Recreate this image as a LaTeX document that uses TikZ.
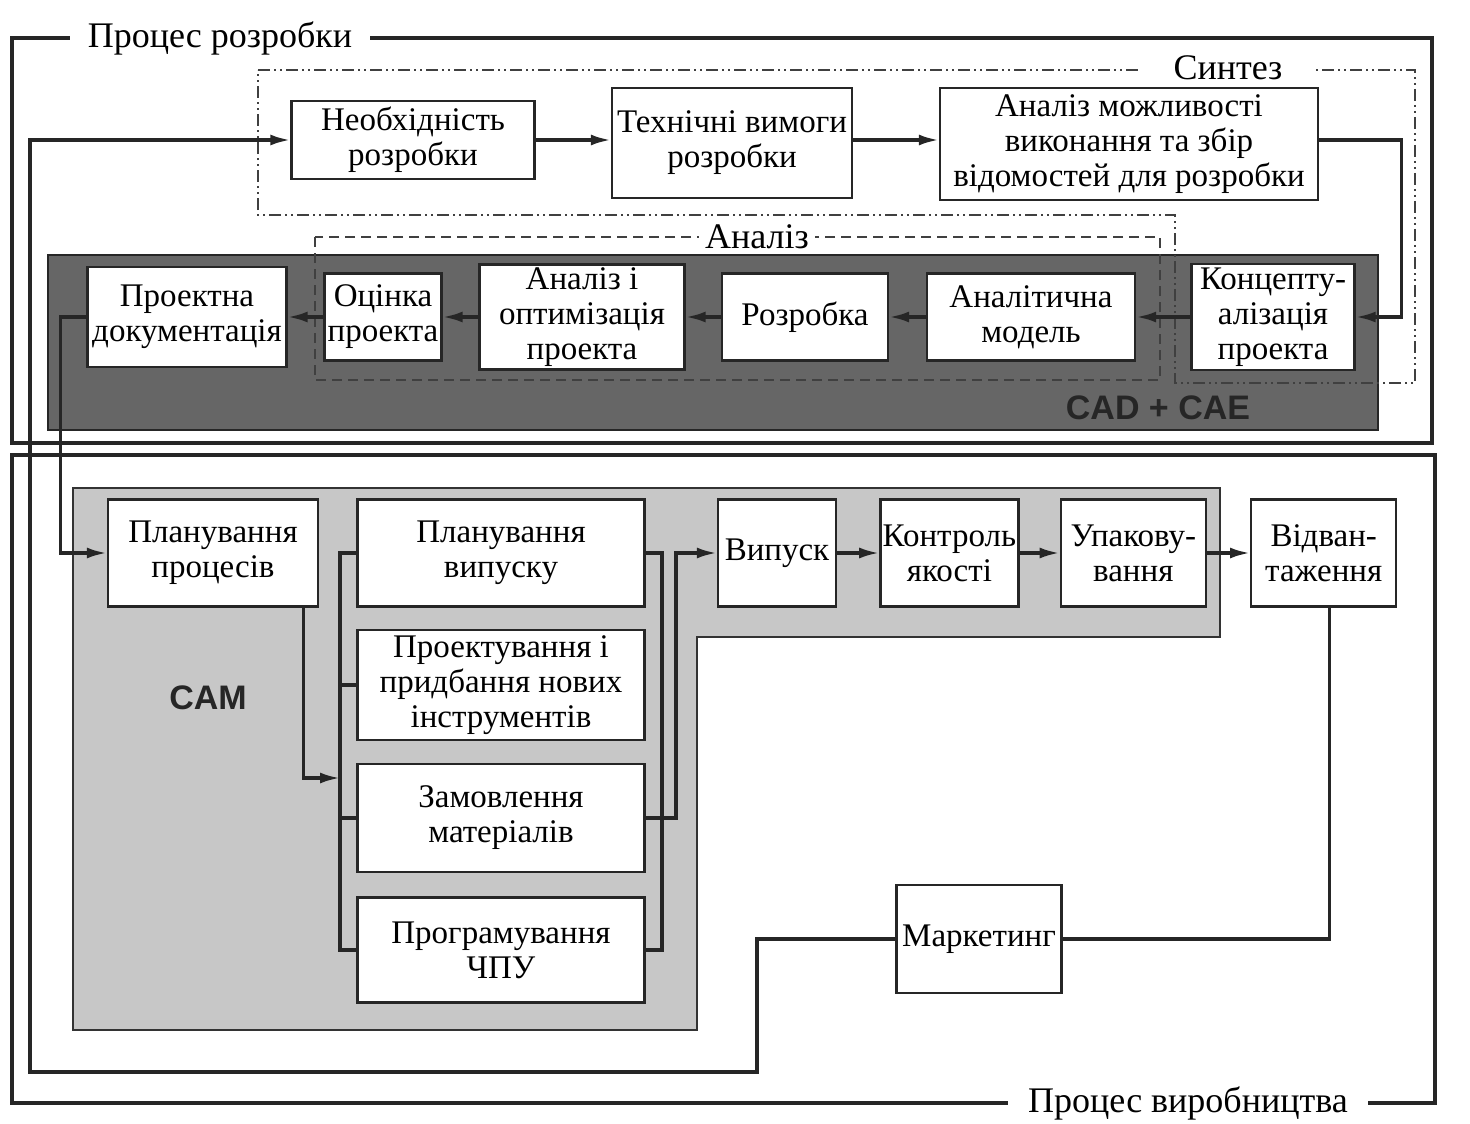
\documentclass[tikz,border=0pt]{standalone}
\usepackage{fontspec}
\setmainfont{Liberation Serif}
\setsansfont{Liberation Sans}
\usetikzlibrary{arrows.meta, positioning}

\begin{document}
\begin{tikzpicture}[
  x=0.5pt, y=-0.5pt, >=Latex,
  node distance=22pt,
  blk/.style={
    draw=black!85, fill=white, line width=1.2pt,
    align=center, inner xsep=1pt, inner ysep=1pt,
    font=\fontsize{16.5}{17.5}\selectfont
  },
  framebox/.style={draw=black!85, line width=1.6pt},
  framelbl/.style={
    fill=white, inner ysep=0pt,
    font=\fontsize{18}{20}\selectfont
  },
  synline/.style={draw=black!75, line width=1.2pt,
    dash pattern=on 6pt off 2pt on 1pt off 2pt on 1pt off 2pt},
  anline/.style={draw=black!75, line width=1.2pt, dash pattern=on 5pt off 3pt},
  cadband/.style={draw=black!85, fill=black!60, line width=1.2pt},
  camzone/.style={draw=black!80, fill=black!22, line width=1.2pt},
  zonelbl/.style={font=\sffamily\bfseries\fontsize{17}{20}\selectfont, text=black!85},
  link/.style={line width=1.6pt, black!85},
  myarrow/.style={link, -{Latex[length=10pt,width=5.5pt]}},
]
\useasboundingbox (0,0) rectangle (1470,1123);
% --- Outer frames ---
\draw[framebox] (12,38) rectangle (1432,443);
\draw[framebox] (12,455) rectangle (1435,1103);
% --- Tool zones ---
\draw[cadband] (48,255) rectangle (1378,430);
\draw[camzone] (73,488) -- (1220,488) -- (1220,637) -- (697,637)
  -- (697,1030) -- (73,1030) -- cycle;
% --- Synthesis / Analysis outlines ---
\draw[synline] (258,70) -- (1415,70) -- (1415,383) -- (1175,383)
  -- (1175,215) -- (258,215) -- cycle;
\draw[anline] (315,237) rectangle (1160,380);
% --- Labels ---
\node[framelbl, inner xsep=9pt] (devlbl) at (220,38) {Процес розробки};
\node[framelbl, inner xsep=10pt] (prodlbl) at (1188,1103) {Процес виробництва};
\node[framelbl, inner xsep=16pt] (synlbl) at (1228,68) {Синтез};
\node[framelbl, inner xsep=3pt] (anlbl) at (757,237) {Аналіз};
\node[zonelbl] (cadlbl) at (1158,408) {CAD + CAE};
\node[zonelbl] (camlbl) at (208,698) {CAM};
% --- Synthesis row ---
\node[blk, minimum width=121.5pt, minimum height=39pt] (need) at (413,140)
  {Необхідність\\розробки};
\node[blk, minimum width=120pt, minimum height=55pt] (treq) at (732,143)
  {Технічні вимоги\\розробки};
\node[blk, minimum width=189pt, minimum height=56pt] (feas) at (1129,144)
  {Аналіз можливості\\виконання та збір\\відомостей для розробки};
\draw[myarrow] (need.east) -- (need.east -| treq.west);
\draw[myarrow] (treq.east |- need.east) -- (need.east -| feas.west);
% --- CAD + CAE row ---
\node[blk, minimum width=99.5pt, minimum height=50pt] (pdoc) at (187,317)
  {Проектна\\документація};
\node[blk, minimum width=58.5pt, minimum height=43.5pt] (eval) at (383,317)
  {Оцінка\\проекта};
\node[blk, minimum width=102.5pt, minimum height=52.5pt] (optim) at (582,317)
  {Аналіз і\\оптимізація\\проекта};
\node[blk, minimum width=83pt, minimum height=43.5pt] (dev) at (805,317)
  {Розробка};
\node[blk, minimum width=104pt, minimum height=43.5pt] (amod) at (1031,317)
  {Аналітична\\модель};
\node[blk, minimum width=81.5pt, minimum height=53pt] (konc) at (1273,317)
  {Концепту-\\алізація\\проекта};
\draw[myarrow] (feas.east |- need.east) -- ++(82,0) |- (konc.east);
\draw[myarrow] (konc.west) -- (amod.east);
\draw[myarrow] (amod.west) -- (dev.east);
\draw[myarrow] (dev.west) -- (optim.east);
\draw[myarrow] (optim.west) -- (eval.east);
\draw[myarrow] (eval.west) -- (pdoc.east);
% --- CAM column ---
\node[blk, minimum width=105pt, minimum height=53.5pt] (pproc) at (213,553)
  {Планування\\процесів};
\node[blk, minimum width=143.5pt, minimum height=53.5pt] (pvyp) at (501,553)
  {Планування\\випуску};
\node[blk, minimum width=143.5pt, minimum height=55pt] (ptool) at (501,685)
  {Проектування і\\придбання нових\\інструментів};
\node[blk, minimum width=143.5pt, minimum height=54pt] (pmat) at (501,818)
  {Замовлення\\матеріалів};
\node[blk, minimum width=143.5pt, minimum height=52.5pt] (pcnc) at (501,950)
  {Програмування\\ЧПУ};
\draw[myarrow] (pdoc.west) -- ++(-26,0) |- (pproc.west);
\coordinate (lbus) at (340,778);
\coordinate (rbus) at (662,0);
\coordinate (rout) at (676,0);
\draw[myarrow] ([xshift=-8pt]pproc.south east) |- (lbus);
\draw[link] (pvyp.west) -| (lbus |- pcnc.west) -- (pcnc.west);
\draw[link] (ptool.west) -- (ptool.west -| lbus);
\draw[link] (pmat.west) -- (pmat.west -| lbus);
\draw[link] (pvyp.east) -| (rbus |- pcnc.east) -- (pcnc.east);
% --- Production row ---
\node[blk, minimum width=59pt, minimum height=53.5pt] (vyp) at (777,553)
  {Випуск};
\node[blk, minimum width=69pt, minimum height=53.5pt, right=21pt of vyp] (ctrl)
  {Контроль\\якості};
\node[blk, minimum width=72.5pt, minimum height=53.5pt, right=20pt of ctrl] (pack)
  {Упакову-\\вання};
\node[blk, minimum width=72.5pt, minimum height=53.5pt, right=21.5pt of pack] (ship)
  {Відван-\\таження};
\draw[myarrow] (pmat.east) -| (rout |- vyp.west) -- (vyp.west);
\draw[myarrow] (vyp.east) -- (ctrl.west);
\draw[myarrow] (ctrl.east) -- (pack.west);
\draw[myarrow] (pack.east) -- (ship.west);
% --- Marketing loop ---
\node[blk, minimum width=82.5pt, minimum height=54pt] (mkt) at (979,939)
  {Маркетинг};
\coordinate (loopa) at (757,1072);
\coordinate (loopb) at (30,1072);
\draw[link] ([xshift=3pt]ship.south) |- (mkt.east);
\draw[myarrow] (mkt.west) -| (loopa) -- (loopb) |- (need.west);
\end{tikzpicture}
\end{document}
